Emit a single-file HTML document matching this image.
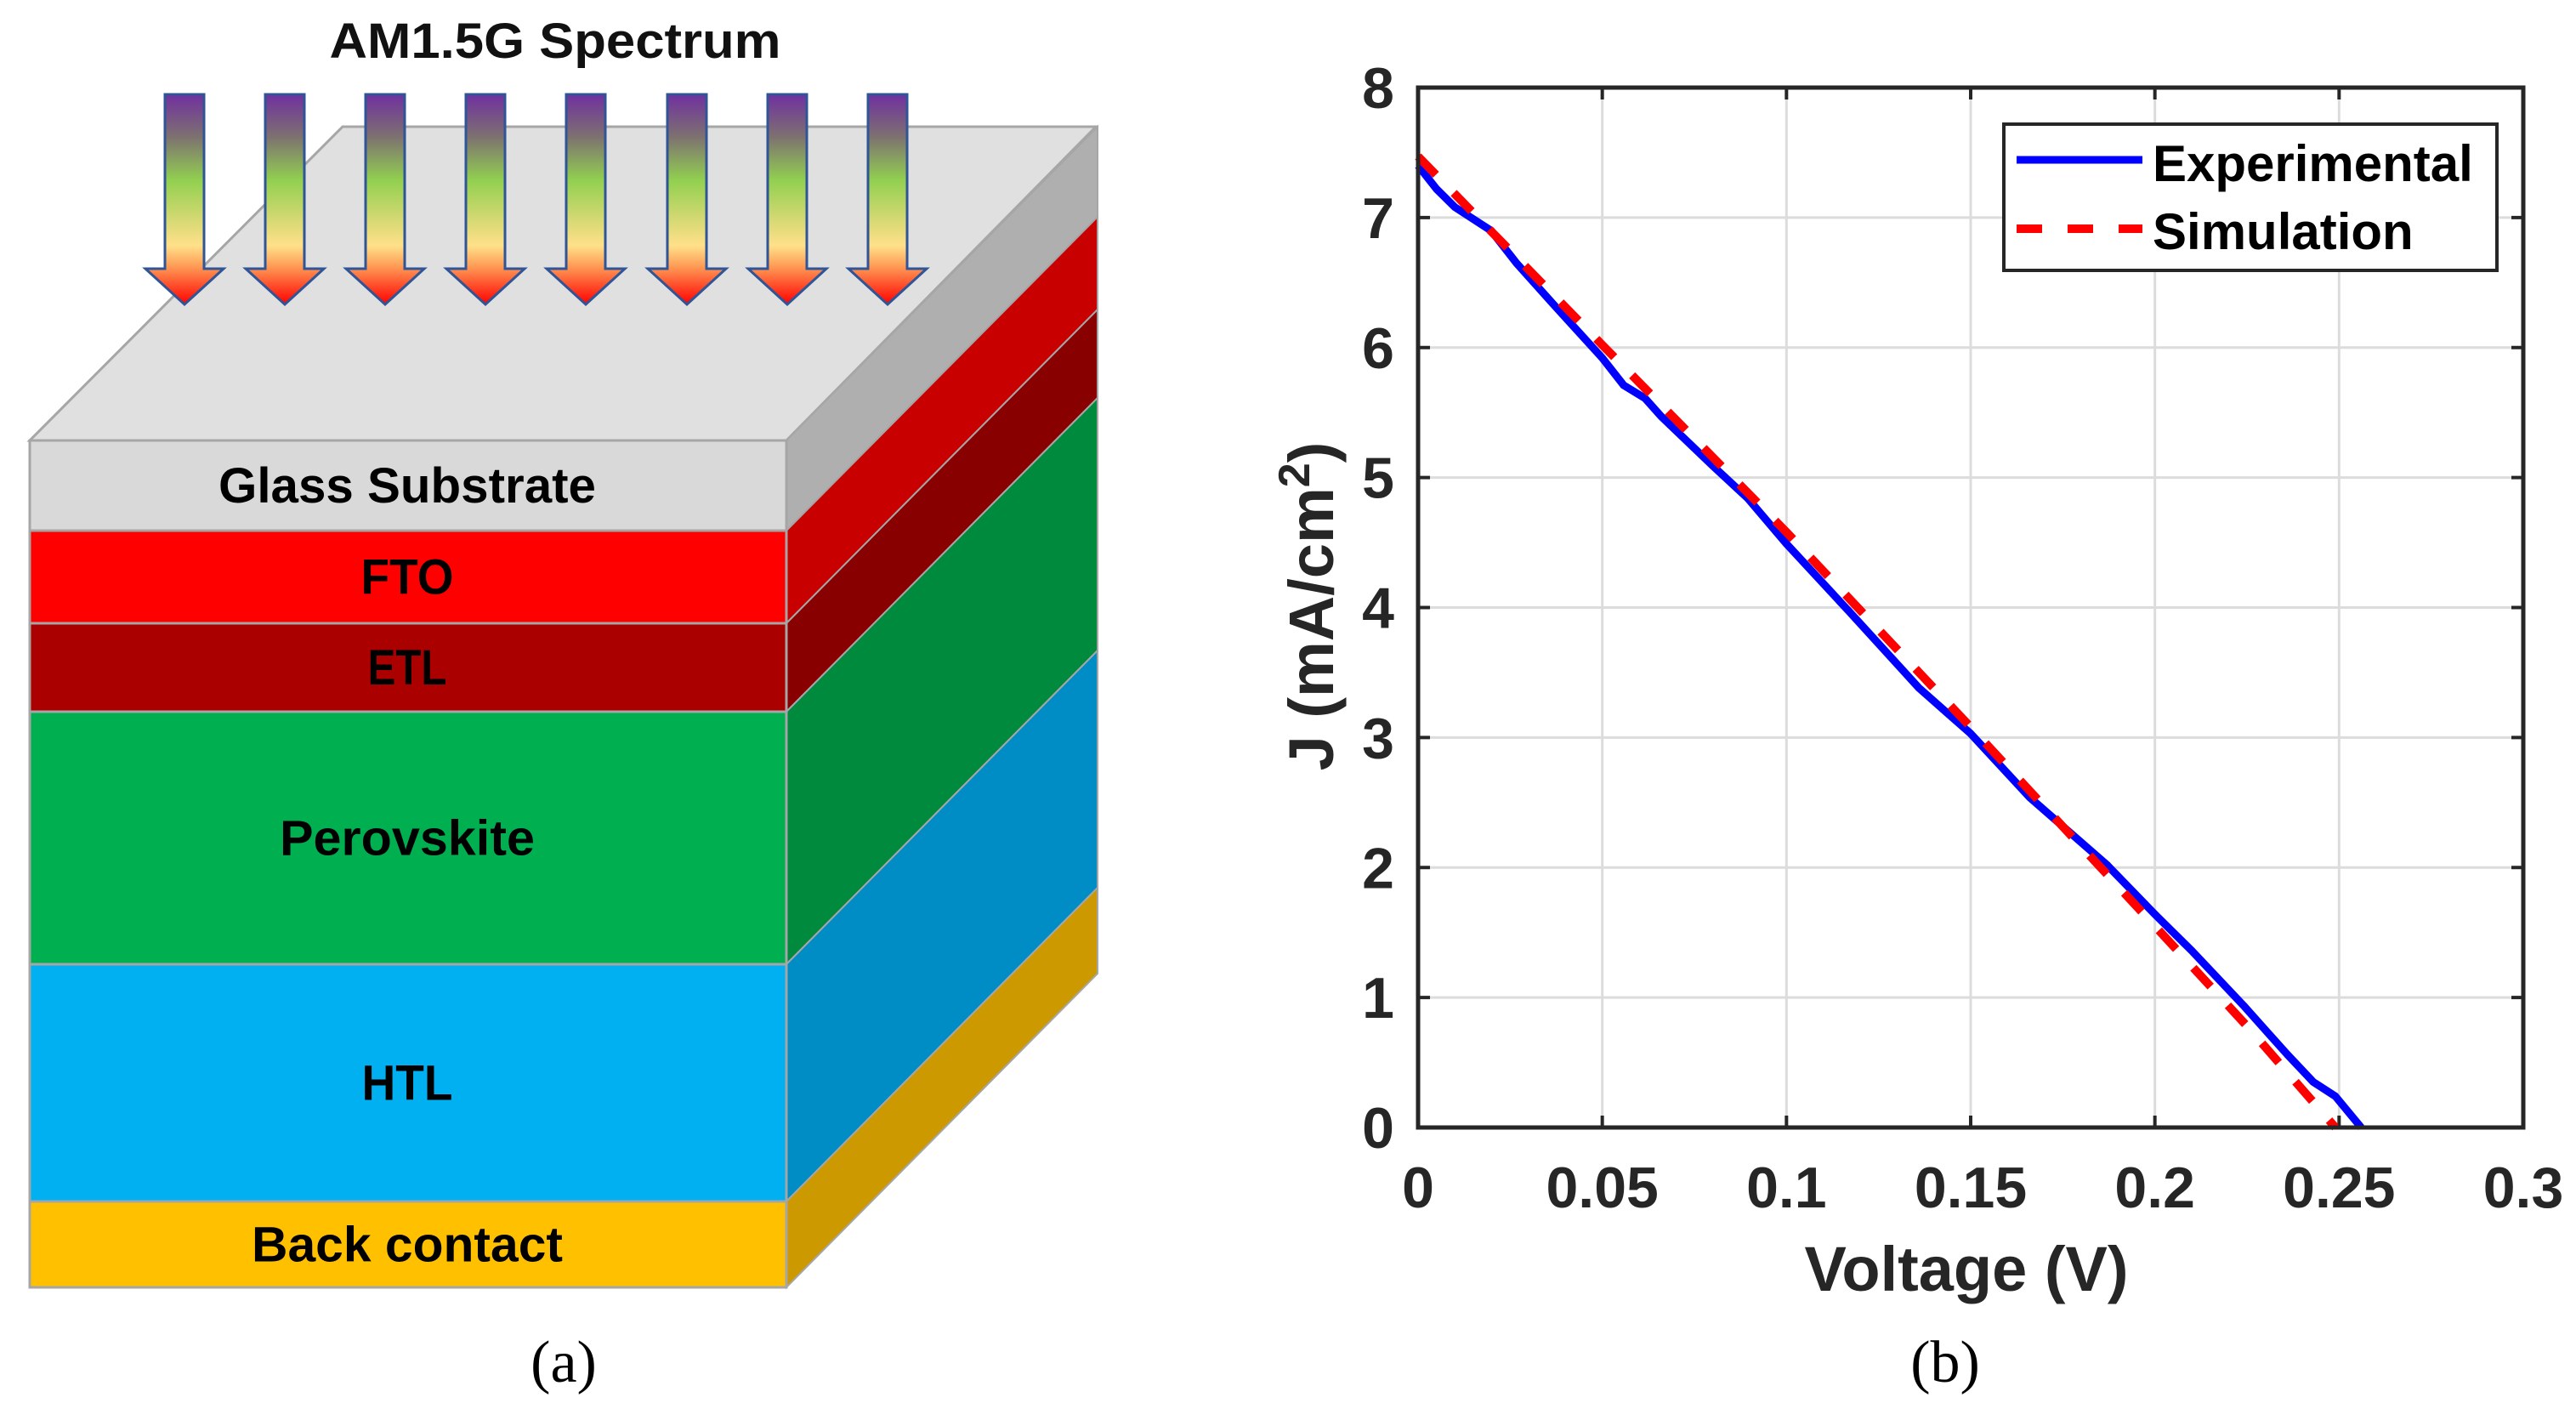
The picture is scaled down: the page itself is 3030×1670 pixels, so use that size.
<!DOCTYPE html>
<html><head><meta charset="utf-8"><style>
html,body{margin:0;padding:0;background:#fff;}
svg{display:block;}
</style></head><body>
<svg id="fig" width="3030" height="1670" viewBox="0 0 3030 1670" xmlns="http://www.w3.org/2000/svg">
<defs>
<linearGradient id="arrowGrad" x1="0" y1="0" x2="0" y2="1">
<stop offset="0" stop-color="#7030a0"/>
<stop offset="0.2" stop-color="#7d7070"/>
<stop offset="0.41" stop-color="#92d050"/>
<stop offset="0.58" stop-color="#cfd870"/>
<stop offset="0.72" stop-color="#ffe08a"/>
<stop offset="0.82" stop-color="#ff9a55"/>
<stop offset="1" stop-color="#ff0000"/>
</linearGradient>
</defs>

<g id="diagram">
  <polygon points="35,518 925,518 1289,149 403,149" fill="#e0e0e0" stroke="#a6a6a6" stroke-width="3"/>
  <g id="sides"></g>
  <g id="fronts"></g>
  <g id="arrows"></g>
  <text x="653" y="68" text-anchor="middle" font-family="Liberation Sans, sans-serif" font-weight="bold" font-size="58" textLength="531" lengthAdjust="spacingAndGlyphs" fill="#111">AM1.5G Spectrum</text>
  <text x="663" y="1625" text-anchor="middle" font-family="Liberation Serif, serif" font-size="70" fill="#000">(a)</text>
</g>

<g id="chart">
  <g id="grid"></g>
  <g id="ticks"></g>
  <g id="series"></g>
  <rect x="1668" y="103" width="1300" height="1223" fill="none" stroke="#262626" stroke-width="5"/>
  <g id="ticklabels" font-family="Liberation Sans, sans-serif" font-weight="bold" font-size="68" fill="#262626"></g>
  <text x="2313" y="1518" text-anchor="middle" font-family="Liberation Sans, sans-serif" font-weight="bold" font-size="74" fill="#262626">Voltage (V)</text>
  <text transform="translate(1568,713) rotate(-90)" text-anchor="middle" font-family="Liberation Sans, sans-serif" font-weight="bold" font-size="74" fill="#262626">J (mA/cm<tspan dy="-28" font-size="52">2</tspan><tspan dy="28">)</tspan></text>
  <text x="2288" y="1625" text-anchor="middle" font-family="Liberation Serif, serif" font-size="70" fill="#000">(b)</text>
  <g>
    <rect x="2357" y="146" width="580" height="172" fill="#fff" stroke="#262626" stroke-width="4"/>
    <line x1="2372" y1="188" x2="2520" y2="188" stroke="#0000ff" stroke-width="9"/>
    <text x="2532" y="213" font-family="Liberation Sans, sans-serif" font-weight="bold" font-size="60" fill="#000">Experimental</text>
    <line x1="2372" y1="269" x2="2520" y2="269" stroke="#ff0000" stroke-width="10" stroke-dasharray="30,30"/>
    <text x="2532" y="293" font-family="Liberation Sans, sans-serif" font-weight="bold" font-size="60" fill="#000">Simulation</text>
  </g>
</g>
</svg>
<script>
// ---- chart data ----
const xTicks = [0, 0.05, 0.1, 0.15, 0.2, 0.25, 0.3];
const xTickLabels = ["0", "0.05", "0.1", "0.15", "0.2", "0.25", "0.3"];
const yTicks = [0, 1, 2, 3, 4, 5, 6, 7, 8];
const yTickLabels = ["0", "1", "2", "3", "4", "5", "6", "7", "8"];
const expV = [0, 0.005, 0.01, 0.0198, 0.0267, 0.0365, 0.05, 0.0558, 0.0616, 0.066, 0.08, 0.0895, 0.1, 0.117, 0.136, 0.15, 0.166, 0.187, 0.2, 0.21, 0.224, 0.236, 0.243, 0.249, 0.256];
const expJ = [7.4, 7.22, 7.08, 6.9, 6.65, 6.34, 5.92, 5.71, 5.61, 5.47, 5.09, 4.84, 4.49, 3.97, 3.38, 3.03, 2.54, 2.02, 1.64, 1.36, 0.94, 0.56, 0.35, 0.24, 0];
const simV = [0, 0.05, 0.1, 0.15, 0.2, 0.225, 0.249];
const simJ = [7.47, 6.02, 4.58, 3.08, 1.55, 0.78, 0];

const NS = "http://www.w3.org/2000/svg";
function mk(tag, attrs, parent) { const e = document.createElementNS(NS, tag); for (const k in attrs) e.setAttribute(k, attrs[k]); parent.appendChild(e); return e; }
const X0 = 1668, X1 = 2968, Y0 = 1326, Y1 = 103;
const xs = v => X0 + (v - 0) / 0.3 * (X1 - X0);
const ys = j => Y0 - (j - 0) / 8 * (Y0 - Y1);

const grid = document.getElementById('grid'), ticks = document.getElementById('ticks'), tl = document.getElementById('ticklabels');
xTicks.forEach((v, i) => {
  const x = xs(v);
  if (i > 0 && i < xTicks.length - 1) {
    const g = mk('line', {x1: x, y1: Y1, x2: x, y2: Y0, stroke: '#dcdcdc', 'stroke-width': 3}, grid);
    
    
  }
  const t1 = mk('line', {x1: x, y1: Y0, x2: x, y2: Y0 - 14, stroke: '#262626', 'stroke-width': 4}, ticks);
  
  
  const t2 = mk('line', {x1: x, y1: Y1, x2: x, y2: Y1 + 14, stroke: '#262626', 'stroke-width': 4}, ticks);
  
  
  const lab = mk('text', {x: x, y: 1420, 'text-anchor': 'middle'}, tl);
  lab.textContent = xTickLabels[i];
  
  
});
yTicks.forEach((j, i) => {
  const y = ys(j);
  if (i > 0 && i < yTicks.length - 1) {
    const g = mk('line', {x1: X0, y1: y, x2: X1, y2: y, stroke: '#dcdcdc', 'stroke-width': 3}, grid);
    
    
  }
  const t1 = mk('line', {x1: X0, y1: y, x2: X0 + 14, y2: y, stroke: '#262626', 'stroke-width': 4}, ticks);
  
  
  const t2 = mk('line', {x1: X1, y1: y, x2: X1 - 14, y2: y, stroke: '#262626', 'stroke-width': 4}, ticks);
  
  
  const lab = mk('text', {x: 1640, y: y + 24, 'text-anchor': 'end'}, tl);
  lab.textContent = yTickLabels[i];
  
  
});
const series = document.getElementById('series');
const expPath = mk('polyline', {points: expV.map((v, i) => xs(v) + ',' + ys(expJ[i])).join(' '), fill: 'none', stroke: '#0000ff', 'stroke-width': 9, 'stroke-linejoin': 'round'}, series);


const simPath = mk('polyline', {points: simV.map((v, i) => xs(v) + ',' + ys(simJ[i])).join(' '), fill: 'none', stroke: '#ff0000', 'stroke-width': 10, 'stroke-dasharray': '30,30'}, series);



// ---- diagram layers ----
const layerNames = ["Glass Substrate", "FTO", "ETL", "Perovskite", "HTL", "Back contact"];
const layerKeys = ["glass", "fto", "etl", "perovskite", "htl", "back-contact"];
const bounds = [518, 624, 733, 837, 1134, 1413, 1514];
const frontCol = ["#d9d9d9", "#ff0000", "#aa0000", "#00b050", "#00b0f0", "#ffc000"];
const sideCol = ["#afafaf", "#c80000", "#880000", "#008a3e", "#008cc4", "#cc9900"];
const textW = [444, 109, 93, 300, 107, 366];
const DX = 366, DY = -369, FL = 35, FR = 925;
const sides = document.getElementById('sides'), fronts = document.getElementById('fronts');
layerNames.forEach((n, i) => {
  const a = bounds[i], b = bounds[i + 1];
  const s = mk('polygon', {points: `${FR},${a} ${FR + DX},${a + DY} ${FR + DX},${b + DY} ${FR},${b}`, fill: sideCol[i], stroke: '#a6a6a6', 'stroke-width': 2}, sides);
  
  
  const r = mk('rect', {x: FL, y: a, width: FR - FL, height: b - a, fill: frontCol[i], stroke: '#a6a6a6', 'stroke-width': 3}, fronts);
  
  
  const t = mk('text', {x: 479, y: (a + b) / 2 + 20, 'text-anchor': 'middle', 'font-family': 'Liberation Sans, sans-serif', 'font-weight': 'bold', 'font-size': 58, fill: '#000', textLength: textW[i], lengthAdjust: 'spacingAndGlyphs'}, fronts);
  t.textContent = n;
  
  
});
const arrowX = [217, 335, 453, 571, 689, 808, 926, 1044];
const arrows = document.getElementById('arrows');
arrowX.forEach(cx => {
  const p = mk('polygon', {points: `${cx-23},111 ${cx+23},111 ${cx+23},316 ${cx+46},316 ${cx},358 ${cx-46},316 ${cx-23},316`, fill: 'url(#arrowGrad)', stroke: '#2f5597', 'stroke-width': 3}, arrows);
  
  
});
</script>
</body></html>
